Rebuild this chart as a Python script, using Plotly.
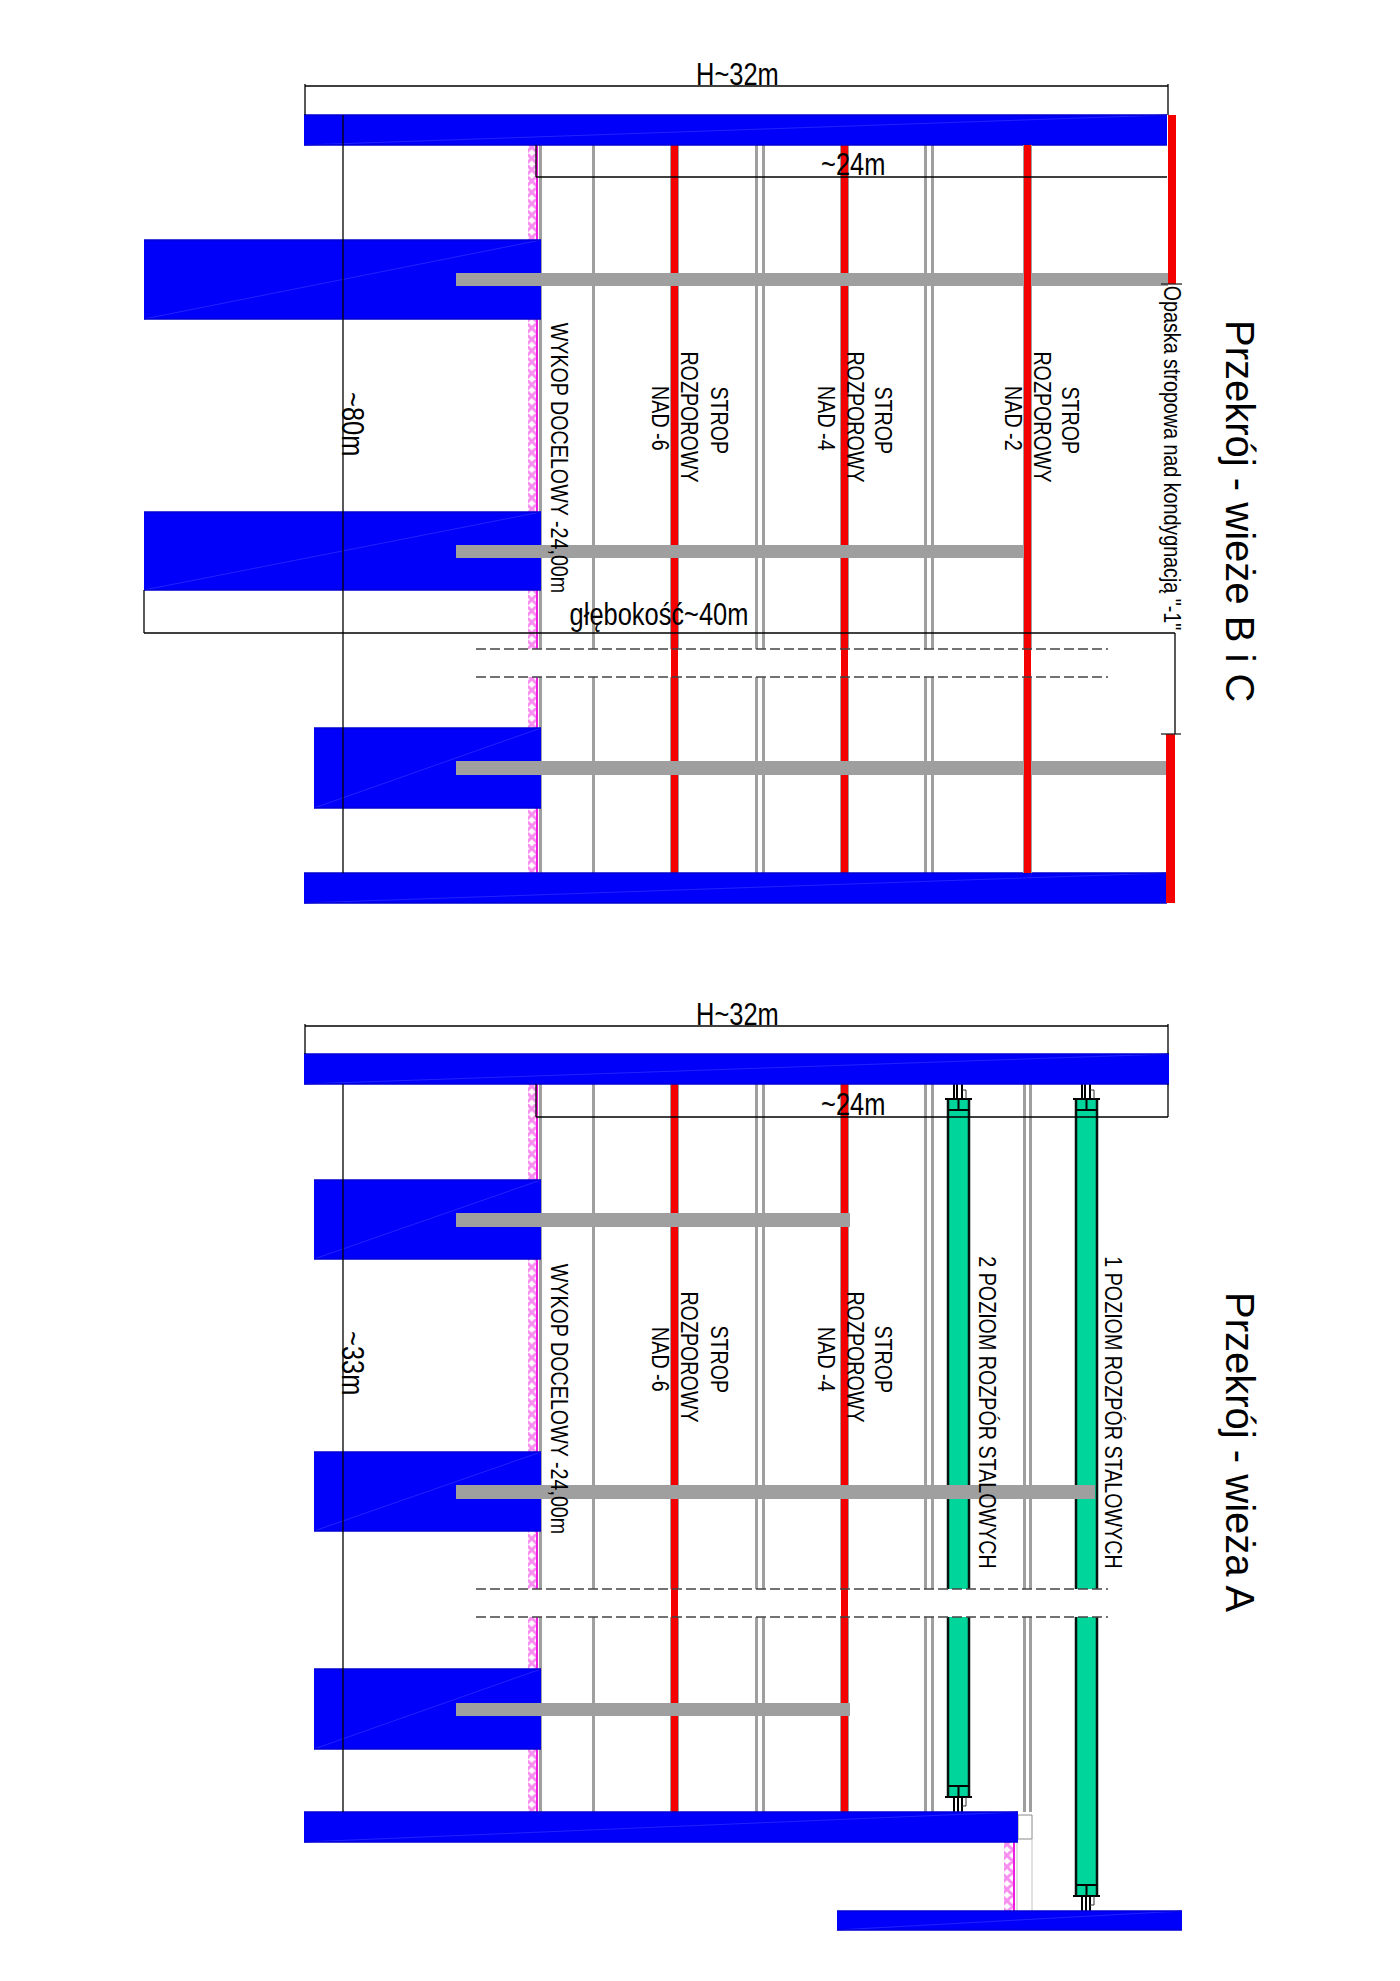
import plotly.graph_objects as go

# ---------- drawing data, in sheet units (y grows downwards) ----------
# concrete slabs and walls, blue
blue_x0 = [304, 144, 144, 314, 304, 304, 314, 314, 314, 304, 837]
blue_x1 = [1167, 541, 541, 541, 1167, 1169, 541, 541, 541, 1018, 1182]
blue_y0 = [115, 240, 512, 728, 873, 1054, 1180, 1452, 1669, 1812, 1911]
blue_y1 = [145, 319, 590, 808, 903, 1084, 1259, 1531, 1749, 1842, 1930]

# grey beams crossing the section
bar_x0 = [456, 456, 456, 456, 456, 456]
bar_x1 = [1168, 1024, 1166, 850, 1095, 850]
bar_y0 = [273, 545, 761, 1213, 1485, 1703]
bar_y1 = [286, 558, 775, 1227, 1499, 1716]

# vertical spans of the two sections, either side of the break
upper_y0 = [145, 677]
upper_y1 = [649, 873]
lower_y0 = [1084, 1617]
lower_y1 = [1589, 1812]
lower_break = [1589, 1617]

# slab members seen in section
thin_x = [540.5, 593.5]
double_upper = [(755, 765), (924, 934)]
double_lower = [(755, 765), (924, 934), (1023, 1032)]
red_upper = [(670, 679), (840, 849)]
red_top_upper = [(1023, 1032)]
red_lower = [(670, 679), (840, 849)]

# ring beam on the right of the upper section
ring_x0 = [1168, 1166]
ring_x1 = [1176, 1175]
ring_y0 = [115, 734]
ring_y1 = [284, 903]

# steel struts, green
strut_x0 = [948, 1076]
strut_x1 = [969, 1097]
strut_top = [1099, 1099]
strut_bottom = [1797, 1896]
strut_anchor_end = [1812, 1911]

# retaining wall hatch
hatch_x0 = [528, 528, 528, 528, 528, 528, 528, 528, 528, 528, 1004]
hatch_x1 = [537, 537, 537, 537, 537, 537, 537, 537, 537, 537, 1014]
hatch_y0 = [145, 319, 590, 677, 808, 1084, 1259, 1531, 1617, 1749, 1842]
hatch_y1 = [240, 512, 649, 728, 873, 1180, 1452, 1589, 1669, 1812, 1911]

# dimension lines
dim_h_y = [86, 177, 633, 1026, 1117]
dim_h_x0 = [305, 536, 144, 305, 536]
dim_h_x1 = [1168, 1167, 1175, 1168, 1168]
dim_v_x = [305, 1168, 536, 343, 144, 1175, 305, 1168, 536, 1168, 343]
dim_v_y0 = [84, 84, 145, 115, 590, 633, 1024, 1024, 1084, 1084, 1084]
dim_v_y1 = [115, 115, 177, 873, 633, 734, 1054, 1054, 1117, 1117, 1812]

# dashed break lines
break_y = [649, 677, 1589, 1617]
break_x0 = 476
break_x1 = 1108

# labels
narrow_big = ["H~32m", "~24m", "głębokość~40m", "H~32m", "~24m"]
narrow_big_x = [737, 853, 659, 737, 853]
narrow_big_y = [74, 164, 614, 1014, 1104]
vert_big = ["~80m", "~33m"]
vert_big_x = [353, 353]
vert_big_y = [424, 1363]
vert_small = [
    "WYKOP DOCELOWY -24,00m", "STROP", "ROZPOROWY", "NAD -6",
    "STROP", "ROZPOROWY", "NAD -4", "STROP", "ROZPOROWY", "NAD -2",
    "WYKOP DOCELOWY -24,00m", "STROP", "ROZPOROWY", "NAD -6",
    "STROP", "ROZPOROWY", "NAD -4",
    "2 POZIOM ROZPÓR STALOWYCH", "1 POZIOM ROZPÓR STALOWYCH",
    'Opaska stropowa nad kondygnacją "-1"',
]
vert_small_x = [560, 720, 690, 661, 884, 856, 827, 1071, 1043, 1014,
                560, 720, 690, 661, 884, 856, 827, 988, 1114, 1173]
vert_small_y = [458, 420, 417, 418, 420, 417, 418, 420, 417, 418,
                1399, 1359, 1357, 1359, 1359, 1357, 1359, 1412, 1412, 458]
titles = ["Przekrój - wieże B i C", "Przekrój - wieża A"]
titles_x = [1240, 1240]
titles_y = [511, 1452]

BLUE = "#0000fa"
GREY = "#9f9f9f"
RED = "#f40000"
GREEN = "#00d69b"
MAGENTA = "#f01be0"
SANS = "Liberation Sans"


def boxes(x0, x1, y0, y1):
    xs, ys = [], []
    for a, b, c, d in zip(x0, x1, y0, y1):
        xs += [a, b, b, a, a, None]
        ys += [c, c, d, d, c, None]
    return xs, ys


def fill(fig, x0, x1, y0, y1, color):
    xs, ys = boxes(x0, x1, y0, y1)
    fig.add_trace(go.Scatter(x=xs, y=ys, mode="lines", fill="toself", fillcolor=color,
                             line=dict(width=0, color=color), hoverinfo="skip"))


def lines(fig, xs, ys, color, width, dash=None):
    fig.add_trace(go.Scatter(x=xs, y=ys, mode="lines", hoverinfo="skip",
                             line=dict(color=color, width=width, dash=dash)))


def seg(x0, x1, y0, y1):
    xs, ys = [], []
    for a, b, c, d in zip(x0, x1, y0, y1):
        xs += [a, b, None]
        ys += [c, d, None]
    return xs, ys


def members(fig, pairs, span0, span1, color, inset=0):
    for a, b in pairs:
        fill(fig, [a + inset] * len(span0), [b - inset] * len(span0), span0, span1, color)


fig = go.Figure()

# hatch goes under the blue walls
xs, ys = boxes(hatch_x0, hatch_x1, hatch_y0, hatch_y1)
fig.add_trace(go.Scatter(x=xs, y=ys, mode="lines", fill="toself", fillcolor="white",
                         fillpattern=dict(shape="x", fgcolor=MAGENTA, bgcolor="white", size=8, solidity=0.6),
                         line=dict(width=0), hoverinfo="skip"))
lines(fig, *seg(hatch_x1, hatch_x1, hatch_y0, hatch_y1), MAGENTA, 2)

# thin grey lines
for x in thin_x:
    lines(fig, [x, x, None, x, x], [upper_y0[0], upper_y1[0], None, upper_y0[1], upper_y1[1]], GREY, 3)
    lines(fig, [x, x, None, x, x], [lower_y0[0], lower_y1[0], None, lower_y0[1], lower_y1[1]], GREY, 3)

# double grey members
for pairs, s0, s1 in [(double_upper, upper_y0, upper_y1), (double_lower, lower_y0, lower_y1)]:
    for a, b in pairs:
        for x in (a + 1.5, b - 1.5):
            lines(fig, [x, x, None, x, x], [s0[0], s1[0], None, s0[1], s1[1]], GREY, 3)

# red members with grey edge, red alone through the break
members(fig, red_upper + red_top_upper, upper_y0, upper_y1, GREY)
members(fig, red_lower, lower_y0, lower_y1, GREY)
for pairs, a0, a1 in [(red_upper + red_top_upper, 145, 873), (red_lower, 1084, 1812)]:
    members(fig, pairs, [a0], [a1], RED, inset=1)

# lower right: thin grey box under the double member
lines(fig, [1018, 1032, 1032, 1018, 1018], [1815, 1815, 1839, 1839, 1815], "#8a8a8a", 1)
lines(fig, [1017, 1017, None, 1032, 1032], [1842, 1911, None, 1839, 1911], "#c4c4c4", 1)

# green struts
for i in range(2):
    a, b = strut_x0[i], strut_x1[i]
    top, bot, end = strut_top[i], strut_bottom[i], strut_anchor_end[i]
    fill(fig, [a, a], [b, b], [top, lower_break[1]], [lower_break[0], bot], GREEN)
    lines(fig, [a, a, None, b, b, None, a, a, None, b, b],
          [top, lower_break[0], None, top, lower_break[0], None, lower_break[1], bot, None, lower_break[1], bot],
          "#06130e", 2.5)
    c = (a + b) / 2
    # plates, caps and anchor bolts at both ends
    lines(fig, [a - 3, b + 3, None, a - 3, b + 3, None, a, b, None, a, b, None, c, c, None, c, c],
          [top, top, None, bot, bot, None, top + 11, top + 11, None, bot - 11, bot - 11, None,
           top, top + 11, None, bot - 11, bot],
          "#000000", 2)
    lines(fig, [a + 6, a + 6, None, a + 9, a + 9, None, a + 14, a + 14, None, a + 6, a + 6, None, a + 10, a + 10,
                None, a + 14, a + 14],
          [top - 15, top, None, top - 15, top, None, top - 15, top, None, bot, end, None, bot, end, None, bot, end],
          "#000000", 2)
    lines(fig, [a + 14, a + 18, a + 18, None, a + 14, a + 18, a + 18],
          [top - 9, top - 9, top, None, bot + 9, bot + 9, bot], "#303030", 1)

# blue walls and their faint diagonals
fill(fig, blue_x0, blue_x1, blue_y0, blue_y1, BLUE)
lines(fig, *seg(blue_x0, blue_x1, blue_y1, blue_y0), "#2222ff", 1)
lines(fig, *seg(blue_x0, blue_x1, blue_y0, blue_y0), "#0000d2", 1.5)
lines(fig, *seg(blue_x0, blue_x1, blue_y1, blue_y1), "#0000d2", 1.5)

# grey beams, then the members that run over them
fill(fig, bar_x0, bar_x1, bar_y0, bar_y1, GREY)
members(fig, red_top_upper, upper_y0, upper_y1, GREY)
members(fig, red_top_upper, [145], [873], RED, inset=1)

# ring beam
fill(fig, ring_x0, ring_x1, ring_y0, ring_y1, RED)

# break lines
for y in break_y:
    lines(fig, [break_x0, break_x1], [y, y], "#444444", 1.5, dash="10px,4px")

# dimensions
lines(fig, *seg(dim_h_x0, dim_h_x1, dim_h_y, dim_h_y), "#000000", 1.3)
lines(fig, *seg(dim_v_x, dim_v_x, dim_v_y0, dim_v_y1), "#000000", 1.3)
lines(fig, [1161, 1182, None, 1161, 1181], [284, 284, None, 734, 734], "#222222", 1.3)

for txt, x, y in zip(narrow_big, narrow_big_x, narrow_big_y):
    fig.add_annotation(x=x, y=y, text=txt, showarrow=False, font=dict(family=SANS, size=31, color="black"))
for txt, x, y in zip(vert_big, vert_big_x, vert_big_y):
    fig.add_annotation(x=x, y=y, text=txt, textangle=90, showarrow=False,
                       font=dict(family=SANS, size=31, color="black"))
for txt, x, y in zip(vert_small, vert_small_x, vert_small_y):
    fig.add_annotation(x=x, y=y, text=txt, textangle=90, showarrow=False,
                       font=dict(family=SANS, size=24, color="black"))
for txt, x, y in zip(titles, titles_x, titles_y):
    fig.add_annotation(x=x, y=y, text=txt, textangle=90, showarrow=False,
                       font=dict(family=SANS, size=40, color="black"))

fig.update_layout(
    width=1400, height=1981,
    margin=dict(l=0, r=0, t=0, b=0),
    paper_bgcolor="white", plot_bgcolor="white",
    showlegend=False,
    xaxis=dict(range=[0, 1400], visible=False),
    yaxis=dict(range=[1981, 0], visible=False),
)

# the drawing uses a narrow face; squeeze the labels, titles keep their width
squeeze = """
document.body.style.margin = '0';
document.querySelectorAll('.annotation-text').forEach(function (t) {
    if (t.textContent.indexOf('Przekr') === 0) { return; }
    t.setAttribute('lengthAdjust', 'spacingAndGlyphs');
    t.setAttribute('textLength', t.getComputedTextLength() * 0.82);
});
"""
fig.write_html("out.html", post_script=squeeze, config={"displayModeBar": False})
